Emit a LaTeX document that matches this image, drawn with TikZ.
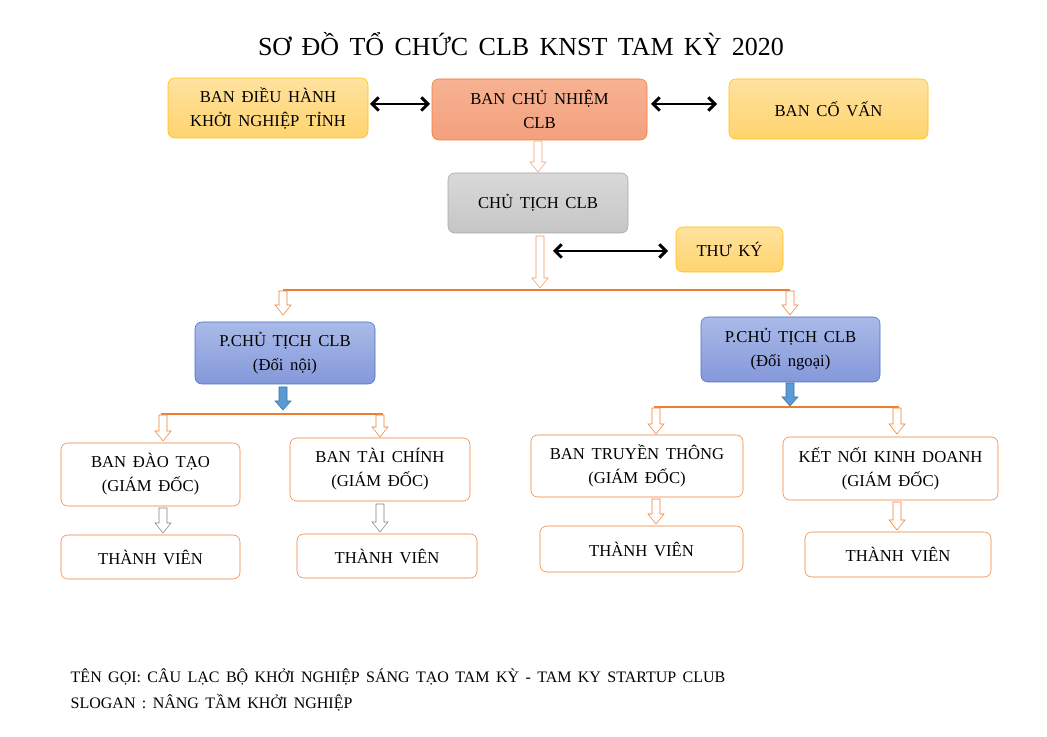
\documentclass[tikz,border=0pt]{standalone}
\usepackage{fontspec}
\setmainfont{Liberation Serif}[WordSpace=1.6]
\usetikzlibrary{arrows.meta}
\definecolor{ob}{HTML}{ED7D31}
\definecolor{yb}{HTML}{FFC000}
\begin{document}
\begin{tikzpicture}[x=0.75pt,y=-0.75pt,
 box/.style={draw=ob,rounded corners=5pt,fill=white,align=center,font=\fontsize{12.5}{18}\selectfont,inner sep=0pt},
 yel/.style={box,draw=yb,top color={rgb,255:red,255;green,226;blue,160},bottom color={rgb,255:red,255;green,212;blue,110}},
 blu/.style={box,draw={rgb,255:red,68;green,114;blue,196},top color={rgb,255:red,170;green,186;blue,232},bottom color={rgb,255:red,132;green,152;blue,218}},
 dbl/.style={{Straight Barb[length=5pt,width=10pt]}-{Straight Barb[length=5pt,width=10pt]},line width=2.2pt},
 oline/.style={draw=ob,line width=1.6pt}]
\useasboundingbox (0,0) rectangle (1047,737);
\newcommand\darr[4]{\draw[#4,fill=white] (#1-4,#2) -- (#1+4,#2) -- (#1+4,#3-10) -- (#1+8,#3-10) -- (#1,#3) -- (#1-8,#3-10) -- (#1-4,#3-10) -- cycle;}
\newcommand\mk[6]{\node[#6,minimum width={(#3-#1)*0.75pt},minimum height={(#4-#2)*0.75pt}] (#5) at ({(#1+#3)/2},{(#2+#4)/2})}
\node[font=\fontsize{19.5}{22}\selectfont] (title) at (521,44) {SƠ ĐỒ TỔ CHỨC CLB KNST TAM KỲ 2020};
\mk{168}{78}{368}{138}{dh}{yel} {BAN ĐIỀU HÀNH\\KHỞI NGHIỆP TỈNH};
\mk{432}{79}{647}{140}{cn}{box,top color={rgb,255:red,246;green,178;blue,146},bottom color={rgb,255:red,244;green,160;blue,126}} {BAN CHỦ NHIỆM\\CLB};
\mk{729}{79}{928}{139}{cv}{yel} {BAN CỐ VẤN};
\mk{448}{173}{628}{233}{ct}{box,draw=gray!70,top color=gray!30,bottom color=gray!45} {CHỦ TỊCH CLB};
\mk{676}{227}{783}{272}{tk}{yel} {THƯ KÝ};
\mk{195}{322}{375}{384}{pl}{blu} {P.CHỦ TỊCH CLB\\(Đối nội)};
\mk{701}{317}{880}{382}{pr}{blu} {P.CHỦ TỊCH CLB\\(Đối ngoại)};
\mk{61}{443}{240}{506}{b1}{box} {BAN ĐÀO TẠO\\(GIÁM ĐỐC)};
\mk{290}{438}{470}{501}{b2}{box} {BAN TÀI CHÍNH\\(GIÁM ĐỐC)};
\mk{531}{435}{743}{497}{b3}{box} {BAN TRUYỀN THÔNG\\(GIÁM ĐỐC)};
\mk{783}{437}{998}{500}{b4}{box} {KẾT NỐI KINH DOANH\\(GIÁM ĐỐC)};
\mk{61}{535}{240}{579}{t1}{box} {THÀNH VIÊN};
\mk{297}{534}{477}{578}{t2}{box} {THÀNH VIÊN};
\mk{540}{526}{743}{572}{t3}{box} {THÀNH VIÊN};
\mk{805}{532}{991}{577}{t4}{box} {THÀNH VIÊN};
\draw[dbl] (370,104) -- (430,104);
\draw[dbl] (651,104) -- (717,104);
\draw[dbl] (553,251) -- (668,251);
\darr{538}{141}{172}{draw=ob!70}
\darr{540}{236}{288}{draw=ob!80}
\draw[oline] (283,290) -- (790,290);
\darr{283}{291}{315}{draw=ob}
\darr{790}{291}{315}{draw=ob}
\draw[draw={rgb,255:red,65;green,113;blue,156},fill={rgb,255:red,91;green,155;blue,213}] (279,387) -- (287,387) -- (287,401) -- (291,401) -- (283,410) -- (275,401) -- (279,401) -- cycle;
\draw[draw={rgb,255:red,65;green,113;blue,156},fill={rgb,255:red,91;green,155;blue,213}] (786,383) -- (794,383) -- (794,397) -- (798,397) -- (790,406) -- (782,397) -- (786,397) -- cycle;
\draw[oline] (161,414) -- (383,414);
\darr{163}{415}{441}{draw=ob}
\darr{380}{415}{437}{draw=ob}
\draw[oline] (654,407) -- (899,407);
\darr{656}{408}{434}{draw=ob}
\darr{897}{408}{434}{draw=ob}
\darr{163}{508}{533}{draw=gray}
\darr{380}{504}{532}{draw=gray}
\darr{656}{499}{524}{draw=ob}
\darr{897}{502}{530}{draw=ob}
\node[anchor=west,font=\fontsize{12}{14}\selectfont] (n1) at (66,677) {TÊN GỌI: CÂU LẠC BỘ KHỞI NGHIỆP SÁNG TẠO TAM KỲ - TAM KY STARTUP CLUB};
\node[anchor=west,font=\fontsize{12}{14}\selectfont] (n2) at (66,703) {SLOGAN : NÂNG TẦM KHỞI NGHIỆP};
\end{tikzpicture}
\end{document}
